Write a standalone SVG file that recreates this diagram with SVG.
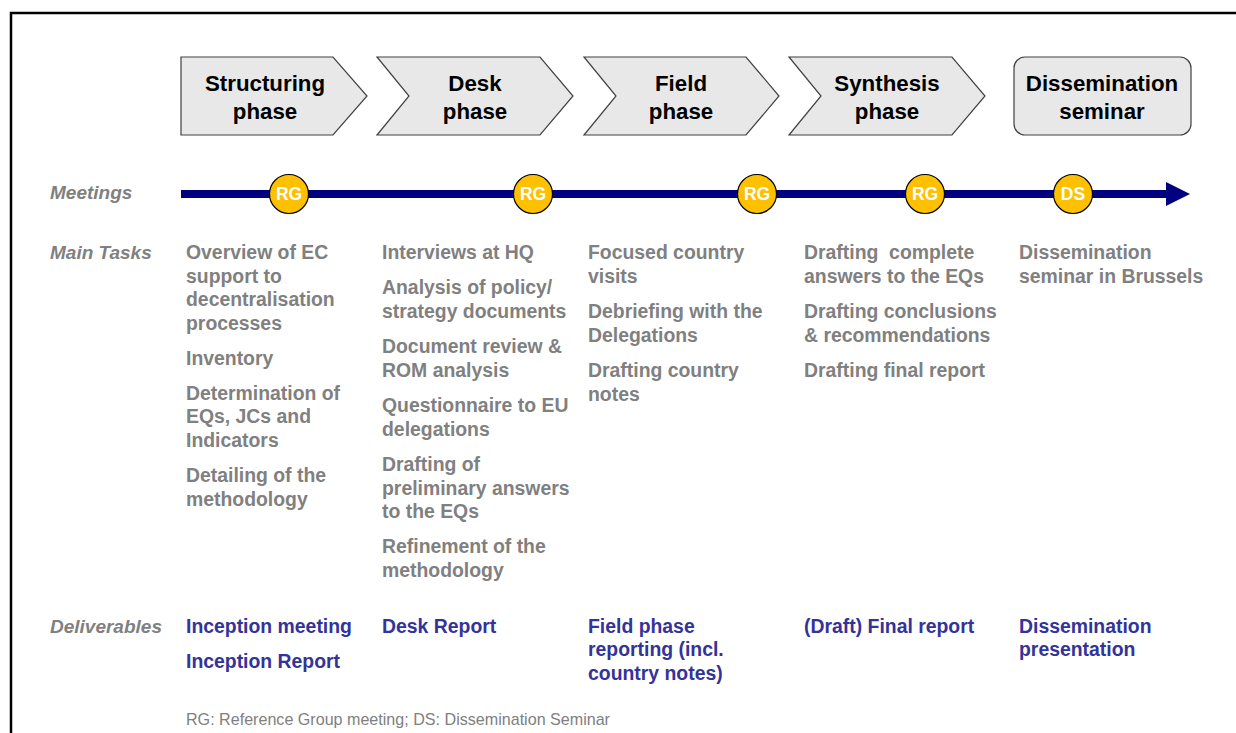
<svg xmlns="http://www.w3.org/2000/svg" width="1236" height="733" viewBox="0 0 1236 733">
<style>
.phase{fill:#e8e8e8;stroke:#404040;stroke-width:1.2}
.pt{font-family:"Liberation Sans",Arial,sans-serif;font-weight:bold;font-size:22.3px;fill:#000;text-anchor:middle}
.lab{font-family:"Liberation Sans",Arial,sans-serif;font-weight:bold;font-style:italic;font-size:19px;fill:#808080}
.task{font-family:"Liberation Sans",Arial,sans-serif;font-weight:bold;font-size:19.4px;fill:#808080}
.del{font-family:"Liberation Sans",Arial,sans-serif;font-weight:bold;font-size:19.4px;fill:#333399}
.mt{fill:#ffc000;stroke:#000;stroke-width:1.2}
.mtt{font-family:"Liberation Sans",Arial,sans-serif;font-weight:bold;font-size:17.5px;fill:#fff;text-anchor:middle}
.foot{font-family:"Liberation Sans",Arial,sans-serif;font-size:16.1px;fill:#808080}
</style>
<rect width="1236" height="733" fill="#fff"/>
<path d="M11,733 V13 H1236" fill="none" stroke="#000" stroke-width="2.5"/>

<g id="phase-structuring">
<polygon class="phase" points="181,57 333,57 367,96 333,135 181,135"/>
<text class="pt" x="265" y="91">Structuring</text>
<text class="pt" x="265" y="119">phase</text>
</g>
<g id="phase-desk">
<polygon class="phase" points="377,57 540,57 573,96 540,135 377,135 409,96"/>
<text class="pt" x="475" y="91">Desk</text>
<text class="pt" x="475" y="119">phase</text>
</g>
<g id="phase-field">
<polygon class="phase" points="584,57 746,57 779,96 746,135 584,135 616,96"/>
<text class="pt" x="681" y="91">Field</text>
<text class="pt" x="681" y="119">phase</text>
</g>
<g id="phase-synthesis">
<polygon class="phase" points="789,57 952,57 985,96 952,135 789,135 821,96"/>
<text class="pt" x="887" y="91">Synthesis</text>
<text class="pt" x="887" y="119">phase</text>
</g>
<g id="phase-dissemination">
<rect class="phase" x="1014" y="57" width="177" height="78" rx="11"/>
<text class="pt" x="1102" y="91">Dissemination</text>
<text class="pt" x="1102" y="119">seminar</text>
</g>

<g id="row-labels">
<text class="lab" x="50" y="199">Meetings</text>
<text class="lab" x="50" y="259">Main Tasks</text>
<text class="lab" x="50" y="633">Deliverables</text>
</g>

<g id="connectors">
<rect x="181" y="190" width="986" height="8" fill="#000080"/>
<polygon points="1166,182 1190,194 1166,206" fill="#000080"/>
</g>

<g id="meeting-rg1"><circle class="mt" cx="289" cy="194" r="19.5"/><text class="mtt" x="289" y="200">RG</text></g>
<g id="meeting-rg2"><circle class="mt" cx="533" cy="194" r="19.5"/><text class="mtt" x="533" y="200">RG</text></g>
<g id="meeting-rg3"><circle class="mt" cx="757" cy="194" r="19.5"/><text class="mtt" x="757" y="200">RG</text></g>
<g id="meeting-rg4"><circle class="mt" cx="925" cy="194" r="19.5"/><text class="mtt" x="925" y="200">RG</text></g>
<g id="meeting-ds"><circle class="mt" cx="1073" cy="194" r="19.5"/><text class="mtt" x="1073" y="200">DS</text></g>

<g id="tasks-structuring">
<text class="task" x="186" y="259">Overview of EC</text>
<text class="task" x="186" y="283">support to</text>
<text class="task" x="186" y="306">decentralisation</text>
<text class="task" x="186" y="330">processes</text>
<text class="task" x="186" y="365">Inventory</text>
<text class="task" x="186" y="400">Determination of</text>
<text class="task" x="186" y="423">EQs, JCs and</text>
<text class="task" x="186" y="447">Indicators</text>
<text class="task" x="186" y="482">Detailing of the</text>
<text class="task" x="186" y="506">methodology</text>
</g>
<g id="tasks-desk">
<text class="task" x="382" y="259">Interviews at HQ</text>
<text class="task" x="382" y="294">Analysis of policy/</text>
<text class="task" x="382" y="318">strategy documents</text>
<text class="task" x="382" y="353">Document review &amp;</text>
<text class="task" x="382" y="377">ROM analysis</text>
<text class="task" x="382" y="412">Questionnaire to EU</text>
<text class="task" x="382" y="436">delegations</text>
<text class="task" x="382" y="471">Drafting of</text>
<text class="task" x="382" y="495">preliminary answers</text>
<text class="task" x="382" y="518">to the EQs</text>
<text class="task" x="382" y="553">Refinement of the</text>
<text class="task" x="382" y="577">methodology</text>
</g>
<g id="tasks-field">
<text class="task" x="588" y="259">Focused country</text>
<text class="task" x="588" y="283">visits</text>
<text class="task" x="588" y="318">Debriefing with the</text>
<text class="task" x="588" y="342">Delegations</text>
<text class="task" x="588" y="377">Drafting country</text>
<text class="task" x="588" y="401">notes</text>
</g>
<g id="tasks-synthesis">
<text class="task" x="804" y="259" xml:space="preserve">Drafting  complete</text>
<text class="task" x="804" y="283">answers to the EQs</text>
<text class="task" x="804" y="318">Drafting conclusions</text>
<text class="task" x="804" y="342">&amp; recommendations</text>
<text class="task" x="804" y="377">Drafting final report</text>
</g>
<g id="tasks-dissemination">
<text class="task" x="1019" y="259">Dissemination</text>
<text class="task" x="1019" y="283">seminar in Brussels</text>
</g>

<g id="deliverables-structuring">
<text class="del" x="186" y="633">Inception meeting</text>
<text class="del" x="186" y="668">Inception Report</text>
</g>
<g id="deliverables-desk">
<text class="del" x="382" y="633">Desk Report</text>
</g>
<g id="deliverables-field">
<text class="del" x="588" y="633">Field phase</text>
<text class="del" x="588" y="656">reporting (incl.</text>
<text class="del" x="588" y="680">country notes)</text>
</g>
<g id="deliverables-synthesis">
<text class="del" x="804" y="633">(Draft) Final report</text>
</g>
<g id="deliverables-dissemination">
<text class="del" x="1019" y="633">Dissemination</text>
<text class="del" x="1019" y="656">presentation</text>
</g>

<g id="footnote">
<text class="foot" x="186" y="725">RG: Reference Group meeting; DS: Dissemination Seminar</text>
</g>
</svg>
